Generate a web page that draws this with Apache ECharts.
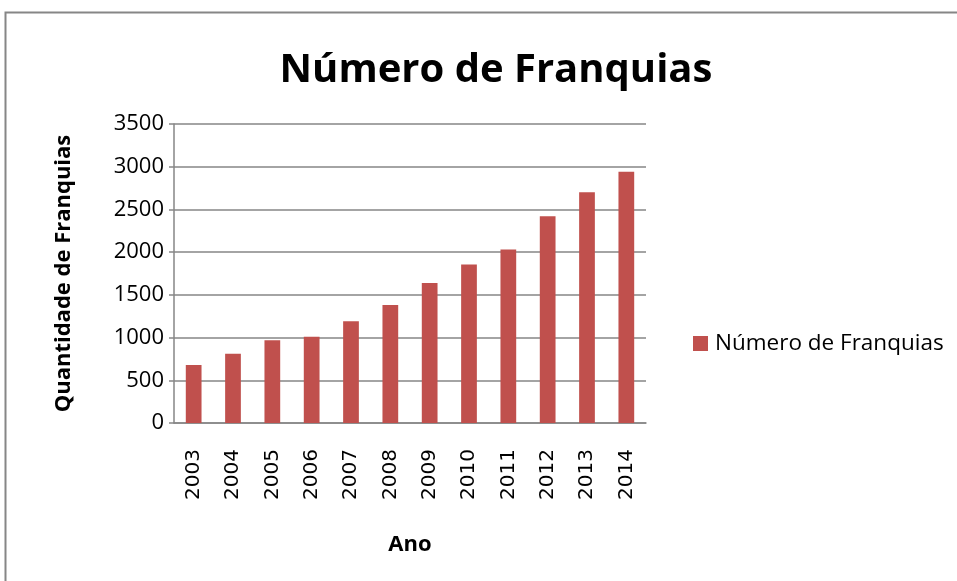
<!DOCTYPE html>
<html>
<head>
<meta charset="utf-8">
<title>Número de Franquias</title>
<script src="https://cdn.jsdelivr.net/npm/echarts@6/dist/echarts.min.js"></script>
<style>
  html, body { margin: 0; padding: 0; background: #fff; }
  #chart { width: 957px; height: 581px; }
</style>
</head>
<body>
<div id="chart"></div>
<script>
// dados do gráfico
var anos = ['2003','2004','2005','2006','2007','2008','2009','2010','2011','2012','2013','2014'];
var franquias = [680, 810, 970, 1010, 1190, 1380, 1640, 1855, 2030, 2420, 2700, 2940];
var serieNome = 'Número de Franquias';

var cinza = '#868686';
var myChart = echarts.init(document.getElementById('chart'));
myChart.setOption({
    animation: false,
    textStyle: { fontFamily: 'Open Sans' },
    graphic: [{
        type: 'rect',
        shape: { x: 5.5, y: 12.5, width: 1000, height: 1000 },
        style: { fill: 'none', stroke: cinza, lineWidth: 2 }
    }],
    title: {
        text: 'Número de Franquias',
        left: 491,
        top: 46,
        textAlign: 'center',
        textStyle: { fontFamily: 'Open Sans', fontWeight: 'bold', fontSize: 40, color: '#000' }
    },
    legend: {
        left: 688,
        top: 327,
        icon: 'rect',
        itemWidth: 15,
        itemHeight: 15,
        itemGap: 0,
        textStyle: { fontFamily: 'Open Sans', fontSize: 22.5, color: '#000', padding: [0, 0, 0, 2] },
        data: [serieNome]
    },
    grid: {
        left: 174,
        right: 311,
        top: 124,
        bottom: 158
    },
    xAxis: {
        type: 'category',
        data: anos,
        name: 'Ano',
        nameLocation: 'middle',
        nameGap: 111,
        nameTextStyle: { fontFamily: 'Open Sans', fontWeight: 'bold', fontSize: 22, color: '#000' },
        axisLine: { lineStyle: { color: cinza, width: 1.5 } },
        axisTick: { length: 8, lineStyle: { color: cinza, width: 1.5 } },
        axisLabel: {
            rotate: 90,
            margin: 26,
            fontFamily: 'DejaVu Sans',
            fontSize: 20,
            color: '#000'
        }
    },
    yAxis: {
        type: 'value',
        min: 0,
        max: 3500,
        interval: 500,
        name: 'Quantidade de Franquias',
        nameLocation: 'middle',
        nameGap: 99,
        nameTextStyle: { fontFamily: 'Open Sans', fontWeight: 'bold', fontSize: 22, color: '#000' },
        axisLine: { show: true, lineStyle: { color: cinza, width: 1.5 } },
        axisTick: { show: true, length: 5, lineStyle: { color: cinza, width: 1.5 } },
        axisLabel: {
            fontFamily: 'Open Sans', fontSize: 22, color: '#000', margin: 10,
            formatter: function (v) { return String(v); }
        },
        splitLine: { lineStyle: { color: cinza, width: 1.5 } }
    },
    series: [{
        name: serieNome,
        type: 'bar',
        barWidth: '40%',
        data: franquias,
        itemStyle: { color: '#C0504D' }
    }]
});
</script>
</body>
</html>
